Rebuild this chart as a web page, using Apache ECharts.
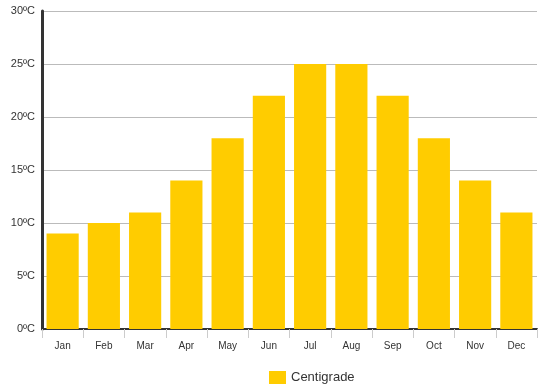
<!DOCTYPE html>
<html><head><meta charset="utf-8">
<script src="https://cdn.jsdelivr.net/npm/echarts@6/dist/echarts.min.js"></script>
<style>html,body{margin:0;padding:0;background:#fff}#c{width:542px;height:387px}</style>
</head><body><div id="c"></div>
<script>
const categories = ['Jan','Feb','Mar','Apr','May','Jun','Jul','Aug','Sep','Oct','Nov','Dec'];
const centigrade = [9,10,11,14,18,22,25,25,22,18,14,11];
const seriesName = 'Centigrade';
const chart = echarts.init(document.getElementById('c'));
chart.setOption({
  animation:false,
  grid:{left:42,right:5,top:11,bottom:58},
  legend:{top:366,left:264,itemWidth:17,itemHeight:13,icon:'rect',
    textStyle:{fontFamily:'Arial, Liberation Sans',fontSize:13,color:'#333'},
    data:[seriesName]},
  xAxis:{type:'category',data:categories,
    axisLine:{lineStyle:{color:'#333',width:2}},
    axisTick:{show:true,length:9,lineStyle:{color:'#ccc'}},
    axisLabel:{fontFamily:'Arial, Liberation Sans',fontSize:10,color:'#333',margin:12}},
  yAxis:{type:'value',min:0,max:30,interval:5,
    axisLine:{show:true,lineStyle:{color:'#333',width:3}},
    axisTick:{show:false},
    splitLine:{lineStyle:{color:'#bbb'}},
    axisLabel:{formatter:'{value}ºC',fontFamily:'Arial, Liberation Sans',fontSize:11,color:'#333',margin:7}},
  series:[{name:seriesName,type:'bar',data:centigrade,barCategoryGap:'22%',
    itemStyle:{color:'#FFCC00'}}]
});
</script></body></html>
